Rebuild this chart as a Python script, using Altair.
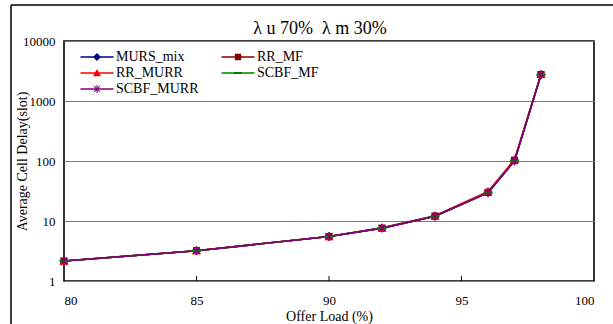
import altair as alt
import pandas as pd

# Offered load (%) and average cell delay (slots) for each scheduler
load = [80, 85, 90, 92, 94, 96, 97, 98]
murs_mix = [2.15, 3.2, 5.5, 7.6, 12.0, 29.8, 101, 2750]
rr_mf = [2.15, 3.2, 5.5, 7.6, 12.1, 30.0, 103, 2760]
rr_murr = [2.15, 3.2, 5.5, 7.7, 12.2, 31.0, 106, 2760]
scbf_mf = [2.15, 3.2, 5.5, 7.6, 12.0, 29.8, 101, 2740]
scbf_murr = [2.15, 3.2, 5.5, 7.6, 12.0, 29.6, 100, 2740]

series = ["MURS_mix", "RR_MF", "RR_MURR", "SCBF_MF", "SCBF_MURR"]
colors = ["#000080", "#800000", "#FF0000", "#008000", "#800080"]
# legend entries fill the first column top to bottom, then the second
legend_order = ["MURS_mix", "RR_MURR", "SCBF_MURR", "RR_MF", "SCBF_MF"]
x_ticks = [80, 85, 90, 95, 100]
y_ticks = [1, 10, 100, 1000, 10000]
inner_ticks = [85, 90, 95]

rows = []
for name, vals in zip(series, [murs_mix, rr_mf, rr_murr, scbf_mf, scbf_murr]):
    for x, y in zip(load, vals):
        rows.append({"series": name, "load": x, "delay": y})
df = pd.DataFrame(rows)

FONT = "Liberation Serif"


def poly(points, s=1.0):
    return "M" + "L".join(f"{x * s:.3f},{y * s:.3f}" for x, y in points) + "Z"


def marker_paths(s=1.0):
    diamond = poly([(0, -1), (1, 0), (0, 1), (-1, 0)], s)
    square = poly([(-0.8, -0.8), (0.8, -0.8), (0.8, 0.8), (-0.8, 0.8)], s)
    triangle = poly([(0, -1), (1, 0.8), (-1, 0.8)], s)
    dash = poly([(-1, -0.28), (1, -0.28), (1, 0.28), (-1, 0.28)], s)
    t = 0.13
    star = (
        poly([(-t, -1), (t, -1), (t, 1), (-t, 1)], s)
        + poly([(-0.8, -0.62), (-0.62, -0.8), (0.8, 0.62), (0.62, 0.8)], s)
        + poly([(0.62, -0.8), (0.8, -0.62), (-0.62, 0.8), (-0.8, 0.62)], s)
    )
    return dict(zip(series, [diamond, square, triangle, dash, star]))


color_of = dict(zip(series, colors))
# legend symbols: a short line (wider than the symbol box) with the marker in its middle
line_bar = poly([(-3.3, -0.15), (3.3, -0.15), (3.3, 0.15), (-3.3, 0.15)])
small = marker_paths(0.8)
legend_shapes = [line_bar + small[s] for s in legend_order]
legend_colors = [color_of[s] for s in legend_order]

color_scale = alt.Scale(domain=series, range=colors)
x_scale = alt.Scale(domain=[80, 100], nice=False)
y_scale = alt.Scale(type="log", domain=[1, 10000], nice=False)

x_enc = alt.X(
    "load:Q",
    scale=x_scale,
    axis=alt.Axis(
        values=x_ticks,
        title="Offer Load (%)",
        grid=False,
        ticks=False,
        domain=False,
        labelPadding=13,
        labelFontSize=13,
        titleFontSize=14,
        titleFontWeight="normal",
        titleY=35,
        titleBaseline="middle",
    ),
)
y_enc = alt.Y(
    "delay:Q",
    scale=y_scale,
    axis=alt.Axis(
        values=y_ticks,
        format="d",
        title="Average Cell Delay(slot)",
        grid=True,
        gridColor="#7a7a7a",
        gridWidth=1,
        ticks=False,
        domain=False,
        labelPadding=9,
        labelFontSize=13,
        titleFontSize=14,
        titleFontWeight="normal",
        titleAngle=-90,
        titleX=-42,
        titleY=120,
        titleAlign="center",
        titleBaseline="middle",
    ),
)

lines = alt.Chart(df).mark_line(strokeWidth=1.6).encode(
    x=x_enc,
    y=y_enc,
    color=alt.Color("series:N", scale=color_scale, legend=None),
    order=alt.Order("load:Q"),
    detail="series:N",
)

big = marker_paths()
points = alt.Chart(df).mark_point(filled=True, size=80, opacity=1).encode(
    x="load:Q",
    y="delay:Q",
    color=alt.Color("series:N", scale=color_scale, legend=None),
    shape=alt.Shape(
        "series:N",
        scale=alt.Scale(domain=series, range=[big[s] for s in series]),
        legend=None,
    ),
)

legend_spec = alt.Legend(
    title=None,
    orient="none",
    legendX=26,
    legendY=9,
    columns=2,
    columnPadding=22,
    rowPadding=2,
    labelFont=FONT,
    labelFontSize=14,
    labelOffset=12,
    labelColor="black",
    symbolSize=100,
    symbolOpacity=1,
    symbolStrokeWidth=0,
)

legend_layer = alt.Chart(df).mark_point(filled=True, size=100, opacity=0).encode(
    x="load:Q",
    y="delay:Q",
    color=alt.Color(
        "series:N",
        scale=alt.Scale(domain=legend_order, range=legend_colors),
        legend=legend_spec,
    ),
    shape=alt.Shape(
        "series:N",
        scale=alt.Scale(domain=legend_order, range=legend_shapes),
        legend=legend_spec,
    ),
)

ticks = alt.Chart(pd.DataFrame({"load": inner_ticks})).mark_rule(
    color="black", strokeWidth=1
).encode(x=alt.X("load:Q", scale=x_scale), y=alt.value(235), y2=alt.value(240))

# outer frame of the figure
frame_v = alt.Chart(pd.DataFrame({"a": [0]})).mark_rule(
    color="black", strokeWidth=1.5
).encode(x=alt.value(-53), y=alt.value(-36), y2=alt.value(400))
frame_h = alt.Chart(pd.DataFrame({"a": [0]})).mark_rule(
    color="black", strokeWidth=1.5
).encode(x=alt.value(-53), x2=alt.value(700), y=alt.value(-36))

chart = (
    alt.layer(frame_v, frame_h, ticks, lines, points, legend_layer)
    .resolve_scale(shape="independent", color="independent")
    .properties(
        width=530,
        height=240,
        autosize=alt.AutoSizeParams(type="none"),
        padding={"left": 64, "top": 41, "right": 19, "bottom": 43},
        title=alt.Title(
            "λ u 70%\u00a0\u00a0λ m 30%",
            font=FONT,
            fontSize=18,
            fontWeight="normal",
            anchor="middle",
            frame="group",
            dx=-9,
            offset=-52,
            baseline="bottom",
            color="black",
        ),
        background="white",
    )
    .configure_view(stroke="black", strokeWidth=1.6)
    .configure_axis(labelFont=FONT, titleFont=FONT, labelColor="black", titleColor="black")
    .configure_legend(labelColor="black")
)

chart.save("out.html", embed_options={"renderer": "svg", "actions": False})
